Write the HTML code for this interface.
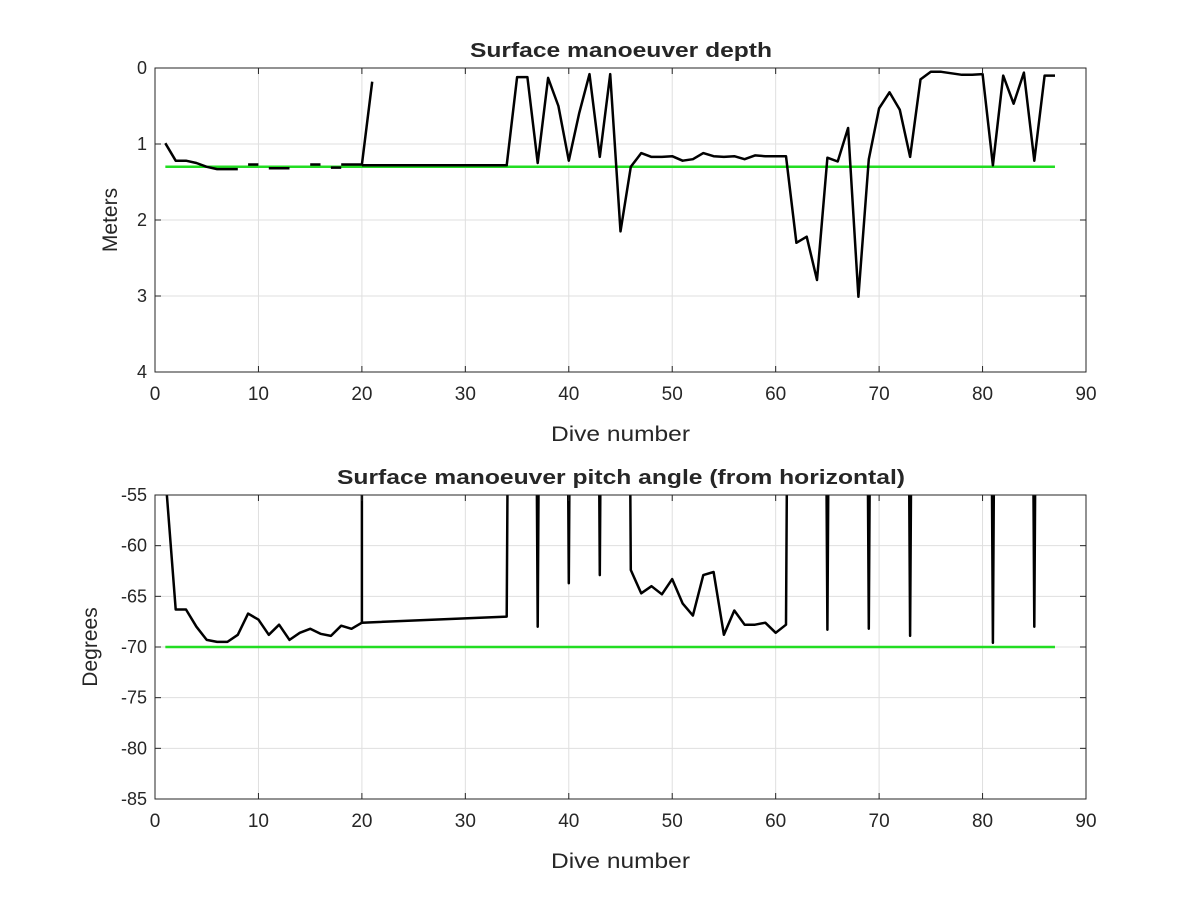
<!DOCTYPE html>
<html><head><meta charset="utf-8"><style>
body{margin:0;background:#fff;}
svg text{font-family:"Liberation Sans",Arial,sans-serif;fill:#262626;}
</style></head><body>
<svg id="fig" width="1200" height="900" viewBox="0 0 1200 900" xmlns="http://www.w3.org/2000/svg">
<rect width="1200" height="900" fill="#fff"/>
</svg>
<script>
const tickX=[0,10,20,30,40,50,60,70,80,90];
const tickDepth=[0,1,2,3,4];
const tickPitch=[-55,-60,-65,-70,-75,-80,-85];
const depthDives=[1,2,3,4,5,6,7,8,null,9,10,null,11,13,null,15,16,null,17,18,null,18,20,21,null,20,34,35,36,37,38,39,40,41,42,43,44,45,46,47,48,49,50,51,52,53,54,55,56,57,58,59,60,61,62,63,64,65,66,67,68,69,70,71,72,73,74,75,76,77,78,79,80,81,82,83,84,85,86,87];
const depthVals=[0.99,1.22,1.22,1.25,1.3,1.33,1.33,1.33,null,1.27,1.27,null,1.32,1.32,null,1.27,1.27,null,1.31,1.31,null,1.27,1.27,0.18,null,1.28,1.28,0.12,0.12,1.25,0.13,0.5,1.22,0.6,0.08,1.17,0.08,2.15,1.3,1.12,1.17,1.17,1.16,1.22,1.2,1.12,1.16,1.17,1.16,1.2,1.15,1.16,1.16,1.16,2.3,2.22,2.79,1.18,1.23,0.79,3.01,1.2,0.53,0.32,0.55,1.17,0.15,0.05,0.05,0.07,0.09,0.09,0.08,1.28,0.1,0.47,0.06,1.22,0.1,0.1];
const depthTarget=[1.3];
const pitchDives=[1,2,3,4,5,6,7,8,9,10,11,12,13,14,15,16,17,18,19,20,20,null,20,34,35,36,37,38,39,40,41,42,43,44,45,46,47,48,49,50,51,52,53,54,55,56,57,58,59,60,61,62,63,64,65,66,67,68,69,70,71,72,73,74,75,76,77,78,79,80,81,82,83,84,85,86,87];
const pitchVals=[-53,-66.3,-66.3,-68,-69.3,-69.5,-69.5,-68.8,-66.7,-67.3,-68.8,-67.8,-69.3,-68.6,-68.2,-68.7,-68.9,-67.9,-68.2,-67.6,100,null,-67.6,-67.0,100,100,-68,100,100,-63.7,100,100,-62.9,100,100,-62.4,-64.7,-64.0,-64.8,-63.3,-65.7,-66.9,-62.9,-62.6,-68.8,-66.4,-67.8,-67.8,-67.6,-68.6,-67.8,100,100,100,-68.3,100,100,100,-68.2,100,100,100,-68.9,100,100,100,100,100,100,100,-69.6,100,100,100,-68,100,100];
const pitchTarget=[-70];
const targetRange=[1,87];

const NS="http://www.w3.org/2000/svg";
const fig=document.getElementById('fig');
function mk(tag,attrs,parent){const e=document.createElementNS(NS,tag);for(const k in attrs)e.setAttribute(k,attrs[k]);(parent||fig).appendChild(e);return e;}

function panel(cfg){
  const L=155,R=1086,T=cfg.top,B=cfg.top+304;
  const g=mk('g',{});
  
  
  const xs=v=>L+(v-0)/90*(R-L);
  const ys=v=>T+(v-cfg.y0)/(cfg.y1-cfg.y0)*(B-T);
  tickX.forEach(t=>{const l=mk('line',{x1:xs(t),x2:xs(t),y1:T,y2:B,stroke:'#dfdfdf','stroke-width':1},g);
    });
  cfg.ticks.forEach(t=>{const l=mk('line',{x1:L,x2:R,y1:ys(t),y2:ys(t),stroke:'#dfdfdf','stroke-width':1},g);
    });
  const cid='clip'+cfg.top;
  const cp=mk('clipPath',{id:cid},g);mk('rect',{x:L,y:T,width:R-L,height:B-T},cp);
  const dg=mk('g',{'clip-path':'url(#'+cid+')'},g);
  const tl=mk('line',{x1:xs(targetRange[0]),x2:xs(targetRange[1]),y1:ys(cfg.target[0]),y2:ys(cfg.target[0]),stroke:'#22dd22','stroke-width':2.5},dg);
  
  let d='',pen=false;
  for(let i=0;i<cfg.dx.length;i++){
    if(cfg.dx[i]===null||cfg.dy[i]===null){pen=false;continue;}
    d+=(pen?'L':'M')+xs(cfg.dx[i]).toFixed(1)+' '+ys(cfg.dy[i]).toFixed(1);pen=true;
  }
  const p=mk('path',{d:d,fill:'none',stroke:'#000','stroke-width':2.5,'stroke-linejoin':'round'},dg);
  
  const bx=mk('rect',{x:L,y:T,width:R-L,height:B-T,fill:'none',stroke:'#262626','stroke-width':1},g);
  
  tickX.forEach(t=>{
    mk('line',{x1:xs(t),x2:xs(t),y1:B,y2:B-6,stroke:'#262626'},g);
    mk('line',{x1:xs(t),x2:xs(t),y1:T,y2:T+6,stroke:'#262626'},g);
    const tx=mk('text',{x:xs(t),y:B+28,'text-anchor':'middle','font-size':19},g);tx.textContent=t;
    
  });
  cfg.ticks.forEach(t=>{
    mk('line',{x1:L,x2:L+6,y1:ys(t),y2:ys(t),stroke:'#262626'},g);
    mk('line',{x1:R,x2:R-6,y1:ys(t),y2:ys(t),stroke:'#262626'},g);
    const tx=mk('text',{x:L-8,y:ys(t)+6,'text-anchor':'end','font-size':18},g);tx.textContent=t;
    
  });
  const ti=mk('text',{x:cfg.titleX,y:T-11,'font-size':20,'font-weight':'bold',textLength:cfg.titleW,lengthAdjust:'spacingAndGlyphs'},g);ti.textContent=cfg.title;
  
  const xl=mk('text',{x:551,y:B+69,'font-size':21,textLength:139,lengthAdjust:'spacingAndGlyphs'},g);xl.textContent='Dive number';
  
  const yl=mk('text',{x:0,y:0,'text-anchor':'middle','font-size':21,transform:'translate('+cfg.ylx+','+((T+B)/2)+') rotate(-90)'},g);yl.textContent=cfg.ylabel;
  
}
panel({name:'depth-chart',top:68,y0:0,y1:4,ticks:tickDepth,dx:depthDives,dy:depthVals,target:depthTarget,title:'Surface manoeuver depth',titleX:470,titleW:302,ylabel:'Meters',ylx:117});
panel({name:'pitch-chart',top:495,y0:-55,y1:-85,ticks:tickPitch,dx:pitchDives,dy:pitchVals,target:pitchTarget,title:'Surface manoeuver pitch angle (from horizontal)',titleX:337,titleW:568,ylabel:'Degrees',ylx:97});
</script>
</body></html>
